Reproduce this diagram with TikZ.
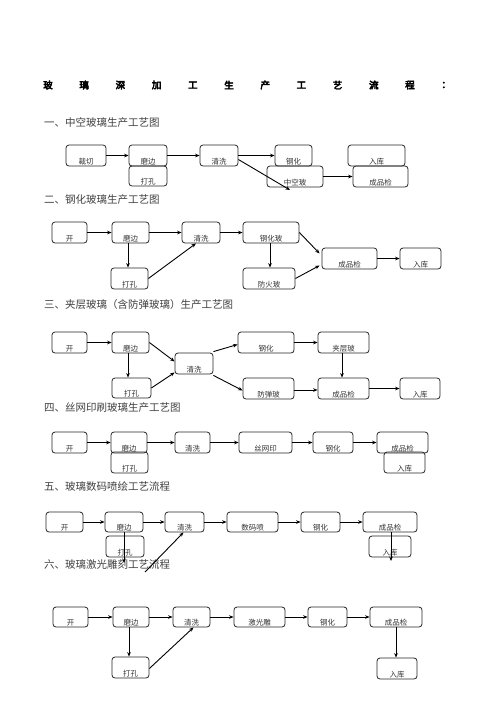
\documentclass[tikz,border=0pt]{standalone}
\usepackage{fontspec}
\setmainfont{Noto Sans CJK SC}
\newfontfamily\ttlfont[FakeBold=5]{Noto Sans CJK SC}
\usetikzlibrary{arrows.meta}
\tikzset{
  box/.style={draw=black!85, line width=0.8pt, rounded corners=3pt, inner sep=0pt},
  lbl/.style={inner sep=0pt, anchor=base, font=\fontsize{7.5}{7.5}\selectfont, text=black!80},
  head/.style={inner sep=0pt, anchor=west, font=\fontsize{10.5}{10.5}\selectfont, text=black!75},
  ttl/.style={inner sep=0pt, font=\fontsize{9.5}{9.5}\ttlfont},
  arr/.style={-{Stealth[length=4.5pt,width=3.6pt]}, line width=0.9pt, black},
  tarr/.style={arr, line width=1.4pt}
}
\newcommand\bx[6]{%
  \node[box, minimum width={(#4-#2)*1pt}, minimum height={(#5-#3)*1pt}] (#1) at ({(#2+#4)/2},{(#3+#5)/2}) {};
  \node[lbl] (#1t) at ([yshift=2pt]#1.south) {#6};}
\begin{document}
\begin{tikzpicture}[x=1pt,y=-1pt]
\useasboundingbox (0,0) rectangle (496,702);
% title
\foreach \c [count=\i from 0] in {玻,璃,深,加,工,生,产,工,艺,流,程,：}{
  \node[ttl] (t\i) at ({48+36.2*\i},85) {\c};
}
% headings
\node[head] (h1) at (44,123) {一、中空玻璃生产工艺图};
\node[head] (h2) at (44,200) {二、钢化玻璃生产工艺图};
\node[head] (h3) at (44,305) {三、夹层玻璃（含防弹玻璃）生产工艺图};
\node[head] (h4) at (44,408) {四、丝网印刷玻璃生产工艺图};
\node[head] (h5) at (44,487) {五、玻璃数码喷绘工艺流程};
\node[head] (h6) at (44,564) {六、玻璃激光雕刻工艺流程};

% ---- section 1
\bx{s1a}{66}{145}{106}{166}{裁切}
\bx{s1b}{129}{145}{167}{166}{磨边}
\bx{s1c}{129}{166}{167}{186}{打孔}
\bx{s1d}{200}{145}{238}{166}{清洗}
\bx{s1e}{275}{145}{312}{166}{钢化}
\bx{s1f}{348}{145}{405}{166}{入库}
\bx{s1g}{267}{166}{323}{187}{中空玻}
\bx{s1h}{353}{166}{408}{187}{成品检}
\coordinate (s1x) at (290,190);
\draw[arr] (s1a) -- (s1b);
\draw[arr] (s1b) -- (s1d);
\draw[arr] (s1d) -- (s1e);
\draw[arr] ([yshift=-4pt]s1d.east) -- (s1x);
\draw[tarr] (s1g) -- (s1h);

% ---- section 2
\bx{s2a}{52}{222}{87}{243}{开}
\bx{s2b}{112}{222}{149}{243}{磨边}
\bx{s2c}{111}{268}{148}{289}{打孔}
\bx{s2d}{182}{222}{220}{243}{清洗}
\bx{s2e}{243}{222}{299}{243}{钢化玻}
\bx{s2f}{243}{268}{295}{289}{防火玻}
\bx{s2g}{322}{248}{377}{269}{成品检}
\bx{s2h}{400}{248}{441}{269}{入库}
\draw[arr] (s2a) -- (s2b);
\draw[arr] (s2b) -- (s2d);
\draw[arr] (s2d) -- (s2e);
\draw[arr] (s2b.south -| 128,0) -- (s2c.north -| 128,0);
\draw[arr] (s2c.east) -- ([xshift=-5pt]s2d.south);
\draw[arr] (s2e.south -| 270,0) -- (s2f.north -| 270,0);
\draw[arr] (s2e.east) -- ([xshift=-2pt,yshift=5pt]s2g.west);
\draw[arr] (s2f.east) -- ([xshift=-2pt,yshift=-7pt]s2g.west);
\draw[tarr] (s2g) -- (s2h);

% ---- section 3
\bx{s3a}{52}{332}{87}{353}{开}
\bx{s3b}{112}{332}{149}{353}{磨边}
\bx{s3c}{112}{378}{151}{398}{打孔}
\bx{s3d}{175}{353}{213}{374}{清洗}
\bx{s3e}{238}{332}{294}{353}{钢化}
\bx{s3f}{318}{332}{369}{353}{夹层玻}
\bx{s3g}{243}{378}{294}{399}{防弹玻}
\bx{s3h}{318}{378}{369}{399}{成品检}
\bx{s3i}{400}{378}{440}{399}{入库}
\draw[arr] (s3a) -- (s3b);
\draw[arr] (s3b.south -| 128,0) -- (s3c.north -| 128,0);
\draw[arr] (s3b.east) -- ([yshift=2pt]s3d.west);
\draw[arr] (s3c.east) -- ([yshift=-9pt]s3d.west);
\draw[arr] ([yshift=1pt]s3d.north east) -- ([yshift=-2pt]s3e.west);
\draw[arr] ([yshift=-1pt]s3d.south east) -- ([yshift=-2pt]s3g.west);
\draw[arr] (s3e) -- (s3f);
\draw[arr] (s3f.south -| 342,0) -- (s3h.north -| 342,0);
\draw[arr] ([yshift=-1.5pt]s3g.east) -- ([yshift=-1.5pt]s3h.west);
\draw[arr] (s3h) -- (s3i);

% ---- section 4
\bx{s4a}{52}{432}{87}{453}{开}
\bx{s4b}{111}{432}{147}{453}{磨边}
\bx{s4c}{111}{452}{148}{473}{打孔}
\bx{s4d}{175}{432}{210}{453}{清洗}
\bx{s4e}{239}{432}{292}{453}{丝网印}
\bx{s4f}{313}{432}{353}{453}{钢化}
\bx{s4g}{377}{432}{428}{453}{成品检}
\bx{s4h}{384}{452}{425}{473}{入库}
\draw[arr] (s4a) -- (s4b);
\draw[arr] (s4b) -- (s4d);
\draw[arr] (s4d) -- (s4e);
\draw[arr] (s4e) -- (s4f);
\draw[arr] (s4f) -- (s4g);

% ---- section 5
\bx{s5a}{46}{512}{83}{532}{开}
\bx{s5b}{105}{512}{143}{532}{磨边}
\bx{s5c}{106}{536}{144}{557}{打孔}
\bx{s5d}{165}{512}{204}{532}{清洗}
\bx{s5e}{227}{512}{278}{532}{数码喷}
\bx{s5f}{301}{512}{340}{532}{钢化}
\bx{s5g}{363}{512}{417}{532}{成品检}
\bx{s5h}{369}{536}{411}{557}{入库}
\coordinate (s5x) at (124,563);
\coordinate (s5y) at (145,572);
\coordinate (s5z) at (391,561);
\draw[arr] (s5a) -- (s5b);
\draw[arr] (s5b) -- (s5d);
\draw[arr] (s5d) -- (s5e);
\draw[arr] (s5e) -- (s5f);
\draw[arr] (s5f) -- (s5g);
\draw[arr] (s5b.south -| s5x) -- (s5x);
\draw[arr] (s5y) -- ([xshift=-1pt]s5d.south);
\draw[arr] (s5g.south -| s5z) -- (s5z);

% ---- section 6
\bx{s6a}{53}{607}{88}{627}{开}
\bx{s6b}{113}{607}{149}{627}{磨边}
\bx{s6c}{112}{657}{149}{678}{打孔}
\bx{s6d}{173}{607}{210}{627}{清洗}
\bx{s6e}{234}{607}{285}{627}{激光雕}
\bx{s6f}{308}{607}{347}{627}{钢化}
\bx{s6g}{370}{607}{422}{627}{成品检}
\bx{s6h}{377}{658}{417}{679}{入库}
\draw[arr] (s6a) -- (s6b);
\draw[arr] (s6b) -- (s6d);
\draw[arr] (s6d) -- (s6e);
\draw[arr] (s6e) -- (s6f);
\draw[arr] (s6f) -- (s6g);
\draw[arr] (s6b.south -| 129,0) -- (s6c.north -| 129,0);
\draw[arr] ([yshift=-1pt]s6c.east) -- ([xshift=2pt]s6d.south);
\draw[arr] (s6g.south -| 396,0) -- (s6h.north -| 396,0);
\end{tikzpicture}
\end{document}
